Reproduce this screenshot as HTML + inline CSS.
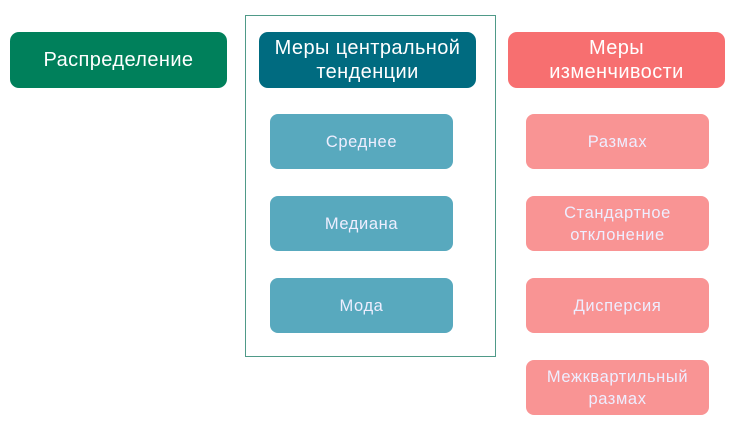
<!DOCTYPE html>
<html><head><meta charset="utf-8"><style>
body{margin:0;width:730px;height:447px;background:#fff;position:relative;font-family:"Liberation Sans","DejaVu Sans",sans-serif;overflow:hidden}
.b{position:absolute;display:flex;align-items:center;justify-content:center;text-align:center;color:#fff;border-radius:9px;box-sizing:border-box;line-height:24px;letter-spacing:0.4px}
.h{font-size:20px}
.s{font-size:16.5px;color:#eef;line-height:22px;border-radius:8px;letter-spacing:0.6px}
.t{background:#58a9be}
.p{background:#f99494}
</style></head><body>
<div style="position:absolute;left:245px;top:15px;width:251px;height:342px;border:1.5px solid #4f9a88;box-sizing:border-box"></div>
<div class="b h" style="left:10px;top:32px;width:217px;height:56px;background:#00805b">Распределение</div>
<div class="b h" style="left:259px;top:32px;width:217px;height:56px;background:#006b80">Меры центральной<br>тенденции</div>
<div class="b h" style="left:508px;top:32px;width:217px;height:56px;background:#f76f70">Меры<br>изменчивости</div>
<div class="b s t" style="left:270px;top:114px;width:183px;height:55px">Среднее</div>
<div class="b s t" style="left:270px;top:196px;width:183px;height:55px">Медиана</div>
<div class="b s t" style="left:270px;top:278px;width:183px;height:55px">Мода</div>
<div class="b s p" style="left:526px;top:114px;width:183px;height:55px">Размах</div>
<div class="b s p" style="left:526px;top:196px;width:183px;height:55px">Стандартное<br>отклонение</div>
<div class="b s p" style="left:526px;top:278px;width:183px;height:55px">Дисперсия</div>
<div class="b s p" style="left:526px;top:360px;width:183px;height:55px">Межквартильный<br>размах</div>
</body></html>
